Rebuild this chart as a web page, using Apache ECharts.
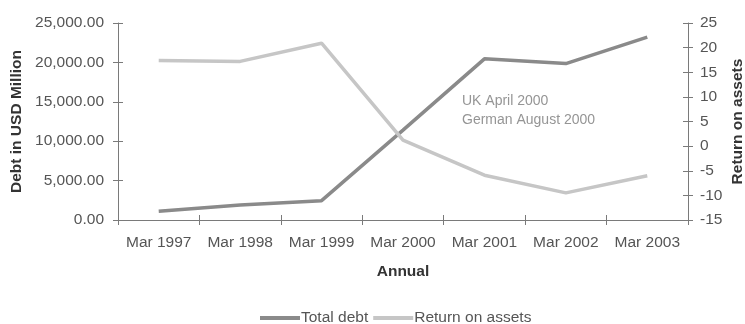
<!DOCTYPE html>
<html>
<head>
<meta charset="utf-8">
<script src="https://cdn.jsdelivr.net/npm/echarts@6/dist/echarts.min.js"></script>
<style>
html,body{margin:0;padding:0;background:#fff;}
#chart{width:745px;height:324px;}
</style>
</head>
<body>
<div id="chart"></div>
<script>
const categories = ['Mar 1997','Mar 1998','Mar 1999','Mar 2000','Mar 2001','Mar 2002','Mar 2003'];
const totalDebt = [1100, 1900, 2450, 11400, 20450, 19850, 23200];
const returnOnAssets = [17.4, 17.2, 20.9, 1.2, -5.9, -9.5, -6.0];
const annotationLines = ['UK April 2000', 'German August 2000'];

const FONT = '"Liberation Sans", Arial, sans-serif';
const AXIS_COLOR = '#7a7a7a';
const TEXT_COLOR = '#555555';
const FS = 15.5;

function fmtDebt(v) {
  const s = Number(v).toFixed(2);
  const parts = s.split('.');
  parts[0] = parts[0].replace(/\B(?=(\d{3})+(?!\d))/g, ',');
  return parts.join('.');
}

const chart = echarts.init(document.getElementById('chart'), null, {renderer: 'canvas'});
const tickInside = {show: true, inside: true, length: 5, lineStyle: {color: AXIS_COLOR, width: 1}};
const tickOutside = {show: true, inside: false, length: 5, lineStyle: {color: AXIS_COLOR, width: 1}};

chart.setOption({
  animation: false,
  backgroundColor: '#ffffff',
  textStyle: {fontFamily: FONT},
  grid: {left: 118, right: 57, top: 23, bottom: 104, containLabel: false, outerBoundsMode: 'none'},
  legend: {
    top: 305,
    left: 255,
    itemWidth: 40,
    itemHeight: 4,
    itemGap: 5,
    icon: 'rect',
    textStyle: {fontFamily: FONT, fontSize: FS, color: TEXT_COLOR, padding: [0, 0, 0, -4]},
    data: ['Total debt', 'Return on assets']
  },
  xAxis: [
    {
      type: 'category',
      data: categories,
      boundaryGap: true,
      name: 'Annual',
      nameLocation: 'middle',
      nameGap: 44,
      nameMoveOverlap: false,
      nameTextStyle: {fontFamily: FONT, fontSize: FS, fontWeight: 'bold', color: '#333'},
      axisLine: {show: true, onZero: false, lineStyle: {color: AXIS_COLOR, width: 1}},
      axisTick: Object.assign({interval: 0}, tickOutside),
      axisLabel: {interval: 0, fontFamily: FONT, fontSize: FS, color: TEXT_COLOR, margin: 15},
      splitLine: {show: false}
    },
    {
      type: 'category',
      data: categories,
      boundaryGap: true,
      position: 'bottom',
      axisLine: {show: false, onZero: false},
      axisTick: Object.assign({interval: 0}, tickInside),
      axisLabel: {show: false},
      splitLine: {show: false}
    }
  ],
  yAxis: [
    {
      type: 'value',
      position: 'left',
      min: 0, max: 25000, interval: 5000,
      name: 'Debt in USD Million',
      nameLocation: 'middle',
      nameGap: 93,
      nameMoveOverlap: false,
      nameRotate: 90,
      nameTextStyle: {fontFamily: FONT, fontSize: FS, fontWeight: 'bold', color: '#333'},
      axisLine: {show: true, lineStyle: {color: AXIS_COLOR, width: 1}},
      axisTick: tickOutside,
      axisLabel: {fontFamily: FONT, fontSize: FS, color: TEXT_COLOR, margin: 14, formatter: fmtDebt},
      splitLine: {show: false}
    },
    {
      type: 'value',
      position: 'right',
      min: -15, max: 25, interval: 5,
      name: 'Return on assets',
      nameLocation: 'middle',
      nameGap: 42,
      nameMoveOverlap: false,
      nameRotate: 90,
      nameTextStyle: {fontFamily: FONT, fontSize: FS, fontWeight: 'bold', color: '#333'},
      axisLine: {show: true, lineStyle: {color: AXIS_COLOR, width: 1}},
      axisTick: tickOutside,
      axisLabel: {fontFamily: FONT, fontSize: FS, color: TEXT_COLOR, margin: 12},
      splitLine: {show: false}
    },
    {
      type: 'value',
      position: 'left',
      min: 0, max: 25000, interval: 5000,
      axisLine: {show: false},
      axisTick: tickInside,
      axisLabel: {show: false},
      splitLine: {show: false}
    },
    {
      type: 'value',
      position: 'right',
      min: -15, max: 25, interval: 5,
      axisLine: {show: false},
      axisTick: tickInside,
      axisLabel: {show: false},
      splitLine: {show: false}
    }
  ],
  series: [
    {
      name: 'Total debt',
      type: 'line',
      xAxisIndex: 0,
      yAxisIndex: 0,
      data: totalDebt,
      symbol: 'none',
      lineStyle: {color: '#8a8a8a', width: 3.5},
      itemStyle: {color: '#8a8a8a'}
    },
    {
      name: 'Return on assets',
      type: 'line',
      xAxisIndex: 0,
      yAxisIndex: 1,
      data: returnOnAssets,
      symbol: 'none',
      lineStyle: {color: '#c6c6c6', width: 3.5},
      itemStyle: {color: '#c6c6c6'}
    }
  ],
  graphic: [
    {
      type: 'text',
      left: 462,
      top: 92,
      style: {
        text: annotationLines.join('\n'),
        fontFamily: FONT,
        fontSize: 14,
        lineHeight: 19,
        fill: '#959595'
      }
    }
  ]
});
</script>
</body>
</html>
